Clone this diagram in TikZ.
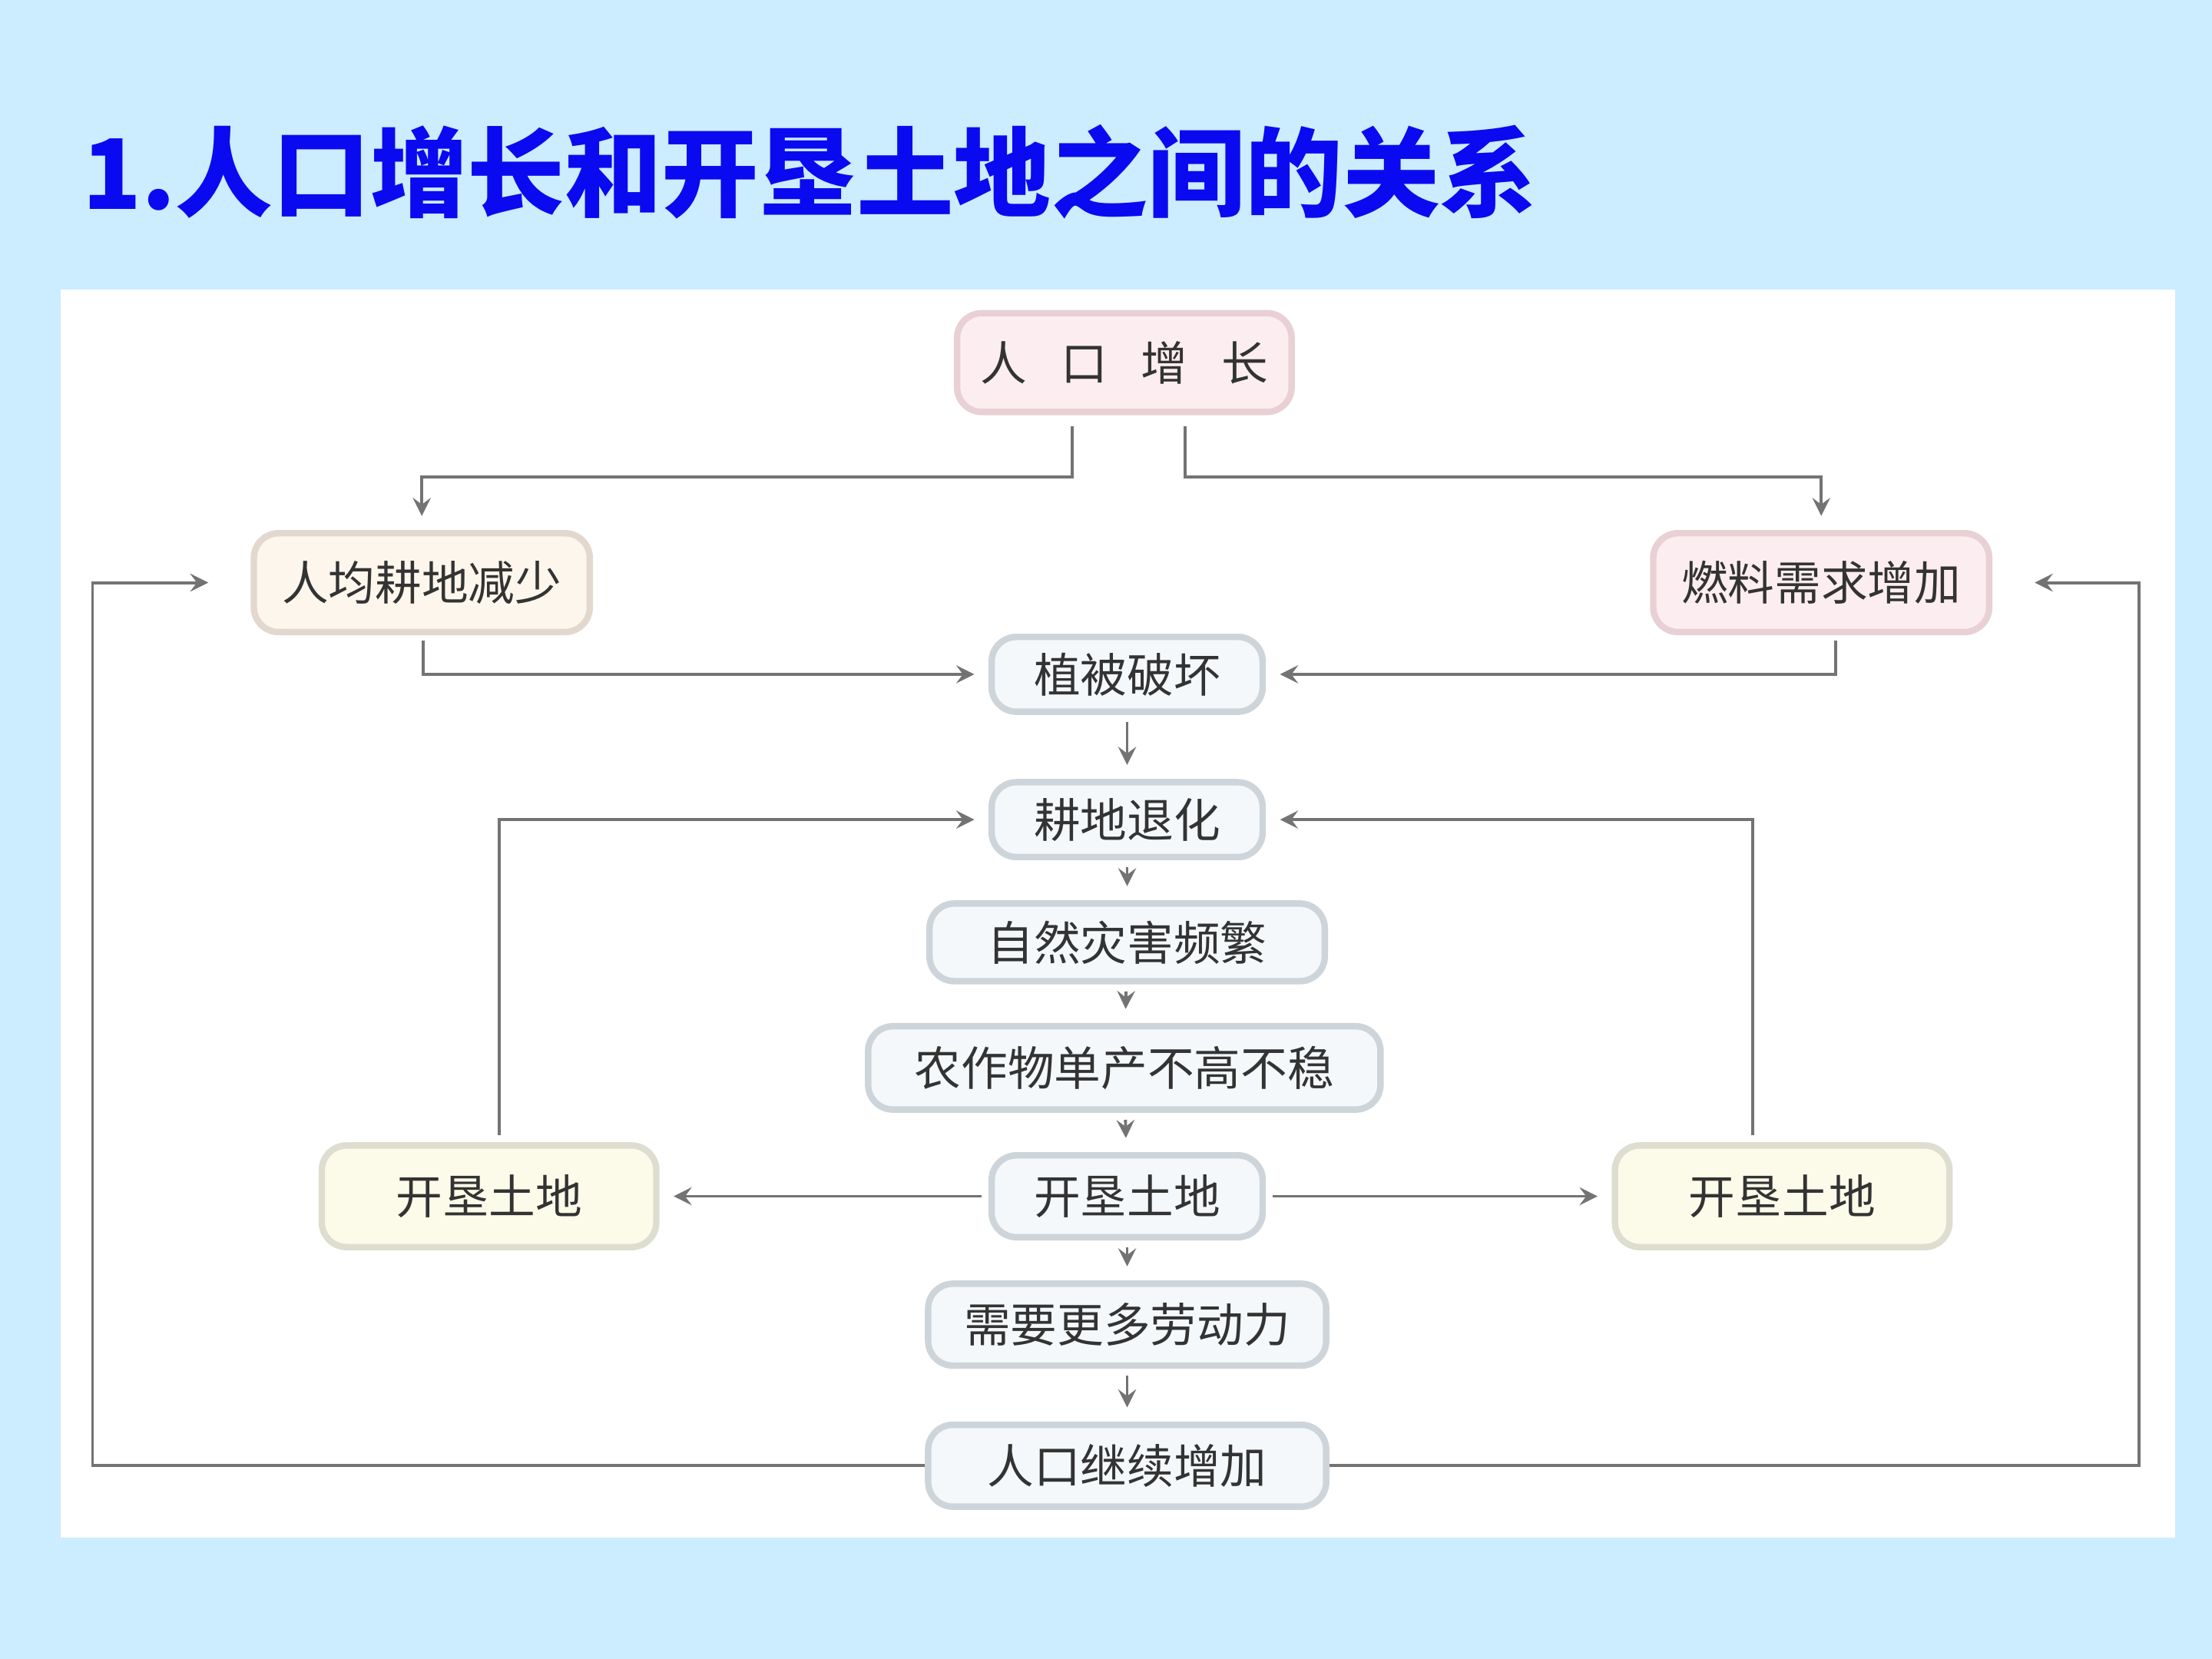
\documentclass[tikz,border=0pt]{standalone}
\usepackage{fontspec}
\setmainfont{Noto Sans CJK SC}
\usepackage{tikz}
\usetikzlibrary{positioning}
\usepackage{xcolor}
\definecolor{bgblue}{RGB}{204,236,255}
\definecolor{titleblue}{RGB}{10,10,240}
\definecolor{pinkfill}{RGB}{252,238,240}
\definecolor{pinkdraw}{RGB}{232,208,212}
\definecolor{creamfill}{RGB}{253,246,236}
\definecolor{creamdraw}{RGB}{226,216,206}
\definecolor{chainfill}{RGB}{244,248,250}
\definecolor{chaindraw}{RGB}{206,213,218}
\definecolor{yellowfill}{RGB}{252,251,234}
\definecolor{yellowdraw}{RGB}{222,222,208}

\begin{document}
\begin{tikzpicture}[%
    x=0.01cm,y=0.01cm,>=stealth,node distance=0.33cm,
    link/.style={->,draw=black!55,line width=0.6pt,shorten >=0.1cm},
    box/.style={%
      rounded corners=5pt,line width=1.3pt,inner sep=0pt,text=black!80,
      font=\fontsize{9.4pt}{11pt}\selectfont},
    pinkbox/.style={box,fill=pinkfill,draw=pinkdraw},
    creambox/.style={box,fill=creamfill,draw=creamdraw},
    chainbox/.style={box,fill=chainfill,draw=chaindraw,minimum height=0.55cm},
    yellowbox/.style={box,fill=yellowfill,draw=yellowdraw,minimum width=2.37cm,minimum height=0.72cm}
  ]
    \fill[bgblue] (0,0) rectangle (1568,-1176);
    \fill[white] (43,-205) rectangle (1542,-1090);
    \useasboundingbox (0,0) rectangle (1568,-1176);

    \node[anchor=west,text=titleblue,font=\bfseries\fontsize{19.6pt}{22pt}\selectfont] (title) at (46,-122) {1.人口增长和开垦土地之间的关系};

    \node[pinkbox,minimum width=2.37cm,minimum height=0.70cm] (pop) at (797,-257) {人\hspace{0.24cm}口\hspace{0.24cm}增\hspace{0.24cm}长};
    \node[creambox,minimum width=2.38cm,minimum height=0.70cm] (perland) at (299,-413) {人均耕地减少};
    \node[pinkbox,minimum width=2.38cm,minimum height=0.70cm] (fuel) at (1291,-413) {燃料需求增加};

    \node[chainbox,minimum width=1.92cm,minimum height=0.53cm] (veg) at (799,-478) {植被破坏};
    \node[chainbox,minimum width=1.92cm,minimum height=0.53cm] (degrade) at (799,-581) {耕地退化};
    \node[chainbox,minimum width=2.80cm] (disaster) at (799,-668) {自然灾害频繁};
    \node[chainbox,minimum width=3.63cm,minimum height=0.59cm] (crop) at (797,-757) {农作物单产不高不稳};
    \node[chainbox,minimum width=1.92cm,minimum height=0.58cm] (reclaim) at (799,-848) {开垦土地};
    \node[chainbox,minimum width=2.82cm,minimum height=0.58cm] (labour) at (799,-939) {需要更多劳动力};
    \node[chainbox,minimum width=2.82cm,minimum height=0.58cm] (more) at (799,-1039) {人口继续增加};

    \node[yellowbox] (reclaimL) [left=2.33cm of reclaim] {开垦土地};
    \node[yellowbox] (reclaimR) [right=2.45cm of reclaim] {开垦土地};

    \draw[link] (pop.south) ++(-37,-8) -- ++(0,-36) -| (perland);
    \draw[link] (pop.south) ++(43,-8) -- ++(0,-36) -| (fuel);
    \draw[link] (perland.south) ++(1,-4) |- (veg);
    \draw[link] (fuel.south) ++(10,-4) |- (veg);

    \draw[link,shorten <=0.05cm] (veg) -- (degrade);
    \draw[link,shorten <=0.05cm] (degrade) -- (disaster);
    \draw[link,shorten <=0.05cm] (disaster) -- (crop);
    \draw[link,shorten <=0.05cm] (crop) -- (reclaim);
    \draw[link,shorten <=0.05cm] (reclaim) -- (labour);
    \draw[link,shorten <=0.05cm] (labour) -- (more);

    \draw[link] (reclaimL.north) ++(7,5) |- (degrade);
    \draw[link] (reclaimR.north) ++(-21,5) |- (degrade);
    \draw[link,shorten <=0.05cm] (reclaim) -- (reclaimL);
    \draw[link,shorten <=0.05cm] (reclaim) -- (reclaimR);

    \draw[link,shorten >=0.3cm] (more.west) -- ++(-590,0) |- (perland);
    \draw[link,shorten >=0.3cm] (more.east) -- ++(574,0) |- (fuel);
\end{tikzpicture}
\end{document}
